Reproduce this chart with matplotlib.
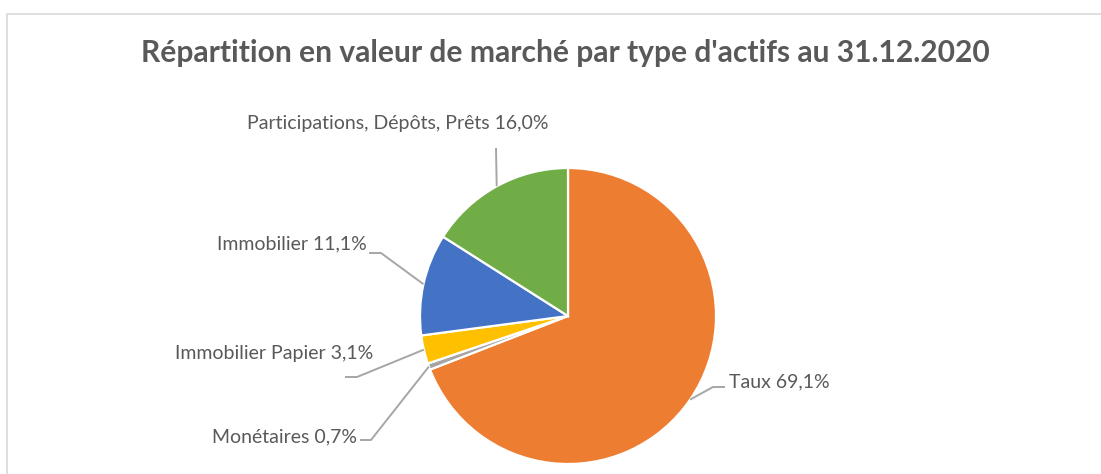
import numpy as np
import matplotlib
matplotlib.use("Agg")
import matplotlib.pyplot as plt
from matplotlib.patches import Rectangle

plt.rcParams["font.family"] = ["Lato", "DejaVu Sans"]

categories = ["Taux", "Monétaires", "Immobilier Papier", "Immobilier",
              "Participations, Dépôts, Prêts"]
values = [69.1, 0.7, 3.1, 11.1, 16.0]
colors = ["#ED7D31", "#A5A5A5", "#FFC000", "#4472C4", "#70AD47"]
title = "Répartition en valeur de marché par type d'actifs au 31.12.2020"

W, H = 1101, 474
CX, CY, R = 568, 316, 148  # pie centre / radius in pixels


def px(x, y):
    # pixel (from top-left) -> data units (pie radius = 1)
    return (x - CX) / R, (CY - y) / R


fig = plt.figure(figsize=(W / 100, H / 100), dpi=100)
ax = fig.add_axes([0, 0, 1, 1])

wedges, _ = ax.pie(values, colors=colors, startangle=90, counterclock=False,
                   radius=1, center=(0, 0),
                   wedgeprops=dict(edgecolor="white", linewidth=1.6))
ax.set_aspect("auto")
ax.set_xlim(-CX / R, (W - CX) / R)
ax.set_ylim(-(H - CY) / R, CY / R)
ax.axis("off")

# chart frame
fig.patches.append(Rectangle((7 / W, -0.1), 1.2, (H - 13.5) / H + 0.1,
                             transform=fig.transFigure, fill=False,
                             edgecolor="#D9D9D9", linewidth=1.2))

fig.text(565 / W, 1 - 53 / H, title, ha="center", va="center",
         fontsize=21.6, fontweight="bold", color="#595959")

# label layout: text anchor, alignment, leader-line elbow points (pixels)
layout = [
    ((729, 382), "left", [(713, 387), (725, 387)]),
    ((357, 437), "right", [(371, 440), (360, 440)]),
    ((373, 354), "right", [(357, 377), (345, 377)]),
    ((367, 244), "right", [(381, 253), (369, 253)]),
    ((398, 124), "center", [(496, 148)]),
]

for w, cat, val, (tpos, ha, elbow) in zip(wedges, categories, values, layout):
    ang = np.deg2rad((w.theta1 + w.theta2) / 2)
    pts = [(np.cos(ang), np.sin(ang))] + [px(*p) for p in elbow]
    xs, ys = zip(*pts)
    ax.plot(xs, ys, color="#A6A6A6", linewidth=1.4, solid_capstyle="butt")
    label = f"{cat} {val:.1f}%".replace(".", ",")
    tx, ty = px(*tpos)
    ax.text(tx, ty, label, ha=ha, va="center", fontsize=14, color="#595959")

fig.savefig("out.png", dpi=100)
